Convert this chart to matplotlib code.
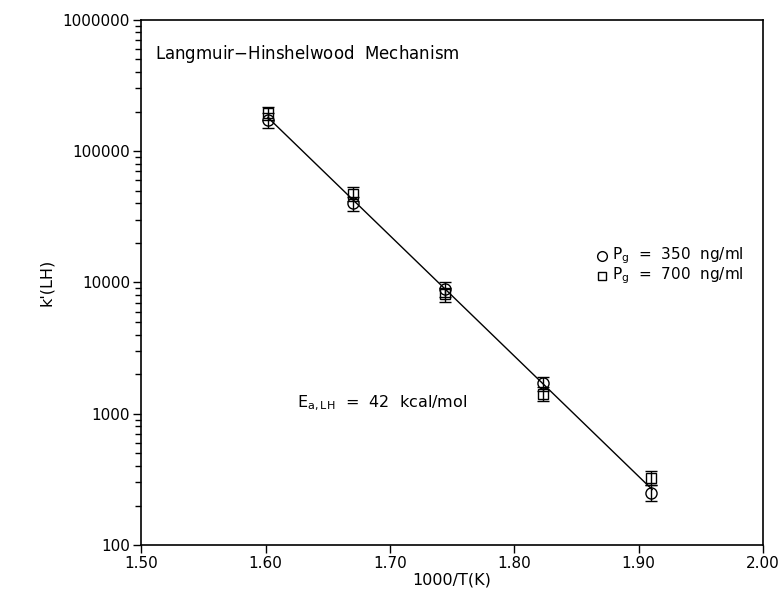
import matplotlib.pyplot as plt
import numpy as np

# 1000/T(K) positions of the measurements
inv_t = [1.602, 1.670, 1.744, 1.823, 1.910]

# k'(LH) for the two gas pressures
k_350 = [172000, 40000, 8900, 1700, 250]
k_700 = [195000, 47500, 8100, 1420, 325]

# error bars (absolute, symmetric)
err_350 = [22000, 5000, 1100, 220, 35]
err_700 = [22000, 5500, 1000, 180, 40]

# Arrhenius fit line end points
fit_x = [1.602, 1.911]
fit_y = [180000, 265]

x_ticks = [1.50, 1.60, 1.70, 1.80, 1.90, 2.00]
y_ticks = [100, 1000, 10000, 100000, 1000000]

plt.rcParams['font.family'] = ['DejaVu Sans']

fig = plt.figure(figsize=(7.8, 5.99), dpi=100)
ax = fig.add_axes([0.181, 0.090, 0.797, 0.877])

ax.plot(fit_x, fit_y, color="black", lw=1.0)
ax.errorbar(inv_t, k_350, yerr=err_350, fmt="o", ms=8, mfc="none", mec="black",
            mew=1.0, ecolor="black", elinewidth=1.0, capsize=4, capthick=1.0)
ax.errorbar(inv_t, k_700, yerr=err_700, fmt="s", ms=7, mfc="none", mec="black",
            mew=1.0, ecolor="black", elinewidth=1.0, capsize=4, capthick=1.0)

ax.set_yscale("log")
ax.set_xlim(1.50, 2.00)
ax.set_ylim(100, 1000000)
ax.set_xticks(x_ticks)
ax.set_xticklabels([f"{v:.2f}" for v in x_ticks])
ax.set_yticks(y_ticks)
ax.set_yticklabels([str(v) for v in y_ticks])
ax.tick_params(axis="both", direction="out", labelsize=11, length=6, width=1, pad=2)
ax.tick_params(axis="y", which="minor", direction="out", length=4, width=1)
ax.tick_params(axis="x", which="minor", bottom=False)

for s in ax.spines.values():
    s.set_linewidth(1.2)

ax.set_xlabel("1000/T(K)", fontsize=11.5, labelpad=1)
ax.set_ylabel("k'(LH)", fontsize=11.5, labelpad=6)

ax.text(0.023, 0.935, "Langmuir$-$Hinshelwood  Mechanism", transform=ax.transAxes,
        fontsize=12, va="center")
ax.text(0.25, 0.27, r"E$\mathregular{_{a,LH}}$  =  42  kcal/mol", transform=ax.transAxes,
        fontsize=11.5, va="center")

# legend drawn as text with markers
ax.plot([0.742], [0.551], "o", ms=7, mfc="none", mec="black", transform=ax.transAxes)
ax.plot([0.742], [0.512], "s", ms=6, mfc="none", mec="black", transform=ax.transAxes)
ax.text(0.757, 0.551, r"P$\mathregular{_g}$  =  350  ng/ml", transform=ax.transAxes,
        fontsize=11, va="center")
ax.text(0.757, 0.512, r"P$\mathregular{_g}$  =  700  ng/ml", transform=ax.transAxes,
        fontsize=11, va="center")

fig.savefig("out.png", dpi=100)
